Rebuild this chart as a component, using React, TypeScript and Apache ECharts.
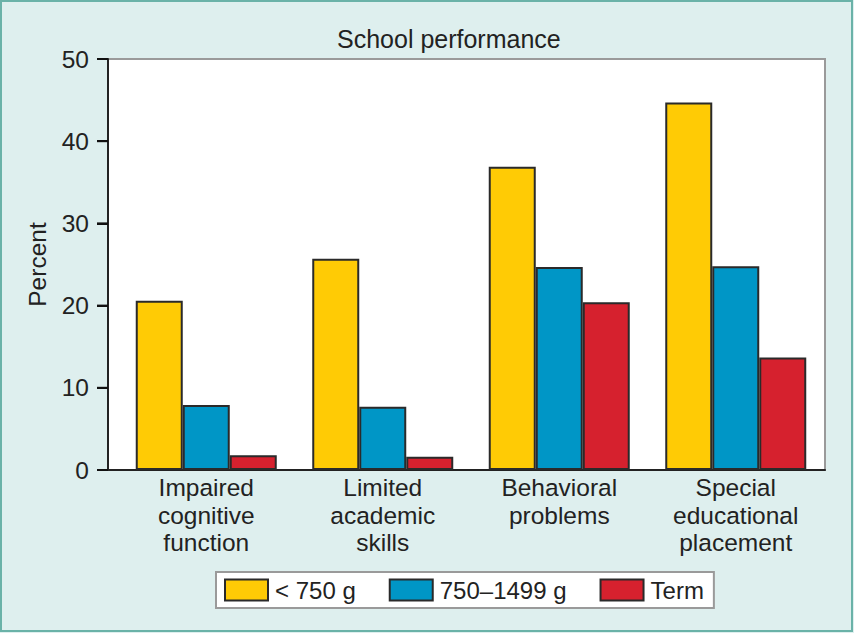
import React, { useEffect, useRef } from "react";
import * as echarts from "echarts";

const categories = [
  "Impaired\ncognitive\nfunction",
  "Limited\nacademic\nskills",
  "Behavioral\nproblems",
  "Special\neducational\nplacement",
];
const seriesNames = ["< 750 g", "750–1499 g", "Term"];
const under750 = [20.6, 25.7, 36.9, 44.7];
const from750to1499 = [7.9, 7.7, 24.7, 24.8];
const term = [1.8, 1.6, 20.4, 13.7];
const yTicks = { min: 0, max: 50, interval: 10 };
const tickValues = [0, 10, 20, 30, 40, 50];
const colors = ["#FFCB05", "#0096C6", "#D6212E"];

const FONT = "'Liberation Sans', Arial, Helvetica, sans-serif";
const FS = 24.5;

export default function App() {
  const ref = useRef<HTMLDivElement>(null);
  useEffect(() => {
    document.body.style.margin = "0";
    if (!ref.current) return;
    const chart = echarts.init(ref.current, undefined, { renderer: "svg" });
    const values = [under750, from750to1499, term];
    chart.setOption({
      animation: false,
      backgroundColor: "#DEEFEE",
      textStyle: { fontFamily: FONT },
      title: {
        text: "School performance",
        left: 332,
        top: 21,
        textStyle: { fontFamily: FONT, fontSize: 25, fontWeight: "normal", color: "#222" },
      },
      graphic: [
        {
          type: "rect",
          shape: { x: 1, y: 1, width: 851, height: 630 },
          style: { fill: "none", stroke: "#6AB2A8", lineWidth: 2 },
          silent: true,
        },
      ],
      legend: {
        left: 216,
        top: 572,
        orient: "horizontal",
        backgroundColor: "#fff",
        borderColor: "#9A9A9A",
        borderWidth: 2,
        padding: [6, 10, 6, 8],
        itemWidth: 43,
        itemHeight: 21,
        itemGap: 33,
        icon: "rect",
        textStyle: { fontFamily: FONT, fontSize: 24, color: "#222", padding: [0, 0, 0, 2] },
        data: seriesNames,
      },
      grid: [
        { left: 118, right: 30, top: 59, height: 411, z: 2 },
        {
          left: 108,
          right: 29,
          top: 59,
          height: 411,
          show: true,
          backgroundColor: "#fff",
          borderColor: "#9A9A9A",
          borderWidth: 2,
          z: 0,
        },
      ],
      xAxis: [
        {
          type: "category",
          gridIndex: 0,
          data: categories,
          axisLine: { show: false },
          axisTick: { show: false },
          axisLabel: {
            fontFamily: FONT,
            fontSize: FS,
            lineHeight: 27.5,
            color: "#222",
            margin: 4,
            interval: 0,
          },
        },
        {
          type: "value",
          gridIndex: 1,
          min: 0,
          max: 1,
          axisLine: { show: true, lineStyle: { color: "#222", width: 2 } },
          axisTick: { show: false },
          axisLabel: { show: false },
          splitLine: { show: false },
        },
      ],
      yAxis: [
        {
          type: "value",
          gridIndex: 0,
          min: yTicks.min,
          max: yTicks.max,
          interval: yTicks.interval,
          show: false,
        },
        {
          type: "value",
          gridIndex: 1,
          position: "left",
          min: yTicks.min,
          max: yTicks.max,
          interval: yTicks.interval,
          name: "Percent",
          nameLocation: "middle",
          nameGap: 58,
          nameTextStyle: { fontFamily: FONT, fontSize: FS, color: "#222" },
          axisLine: { show: true, onZero: false, lineStyle: { color: "#222", width: 2 } },
          axisTick: { show: true, inside: false, length: 11, lineStyle: { color: "#111", width: 2 } },
          axisLabel: { fontFamily: FONT, fontSize: FS, color: "#222", margin: 19 },
          splitLine: { show: false },
        },
      ],
      series: [
        ...seriesNames.map((name, i) => ({
          name,
          type: "bar",
          xAxisIndex: 0,
          yAxisIndex: 0,
          data: values[i],
          barWidth: 47,
          barGap: "0%",
          z: 3,
          itemStyle: { color: colors[i], borderColor: "#2A2A2A", borderWidth: 2 },
        })),
        {
          name: "yTicks",
          type: "custom",
          xAxisIndex: 1,
          yAxisIndex: 1,
          silent: true,
          clip: false,
          z: 10,
          data: tickValues.map((v) => [0, v]),
          renderItem: (_params: any, api: any) => {
            const p = api.coord([0, api.value(1)]);
            return {
              type: "line",
              shape: { x1: p[0] - 11, y1: p[1], x2: p[0], y2: p[1] },
              style: { stroke: "#111", lineWidth: 2 },
            };
          },
        },
      ],
    });
    return () => chart.dispose();
  }, []);
  return <div ref={ref} style={{ width: 854, height: 633 }} />;
}
